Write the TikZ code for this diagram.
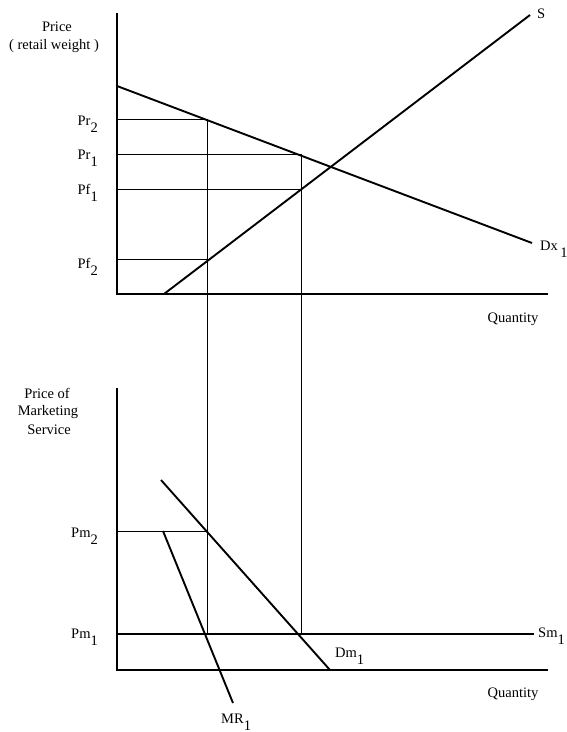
\documentclass[tikz,border=0pt]{standalone}
\usepackage{fontspec}
\setmainfont{Liberation Serif}
\newcommand{\lowsub}[1]{\raisebox{-0.5em}{#1}}

\begin{document}
\begin{tikzpicture}[x=1pt, y=-1pt,
    axis/.style={line width=1.5pt},
    curve/.style={line width=1.9pt},
    guide/.style={line width=0.7pt},
    lab/.style={font=\fontsize{14.5}{17}\selectfont, inner sep=0pt}]
    \useasboundingbox (0,0) rectangle (567,732);

    % Định nghĩa các điểm (hình trên)
    \coordinate (O1) at (117, 294);
    \coordinate (Y1) at (117, 13);
    \coordinate (X1) at (548, 294);
    \coordinate (D0) at (117, 86);
    \coordinate (D1) at (532, 243);
    \coordinate (S0) at (164, 294);
    \coordinate (S1) at (530, 15);
    \coordinate (R2) at (117, 119);
    \coordinate (R1) at (117, 154);
    \coordinate (F1) at (117, 189);
    \coordinate (F2) at (117, 259);
    \coordinate (E2) at (207, 119);
    \coordinate (E1) at (301, 154);
    \coordinate (G1) at (301, 189);
    \coordinate (G2) at (207, 259);

    % Định nghĩa các điểm (hình dưới)
    \coordinate (O2) at (117, 670);
    \coordinate (Y2) at (117, 388);
    \coordinate (X2) at (548, 670);
    \coordinate (M2) at (117, 531);
    \coordinate (M1) at (117, 634);
    \coordinate (Sm) at (534, 634);
    \coordinate (H2) at (207, 531);
    \coordinate (H1) at (207, 634);
    \coordinate (K1) at (301, 634);
    \coordinate (Dm0) at (161, 480);
    \coordinate (Dm1) at (330, 670);
    \coordinate (MR0) at (163, 531);
    \coordinate (MR1) at (233, 703);

    % 1. Các trục
    \draw[axis] (Y1) -- (O1) -- (X1);
    \draw[axis] (Y2) -- (O2) -- (X2);

    % 2. Các đường gióng
    \draw[guide] (R2) -- (E2) -- (H1);
    \draw[guide] (R1) -- (E1) -- (K1);
    \draw[guide] (F1) -- (G1);
    \draw[guide] (F2) -- (G2);
    \draw[guide] (M2) -- (H2);

    % 3. Các đường cung, cầu
    \draw[curve] (D0) -- (D1);
    \draw[curve] (S0) -- (S1);
    \draw[axis] (M1) -- (Sm);
    \draw[curve] (Dm0) -- (Dm1);
    \draw[curve] (MR0) -- (MR1);

    % 4. Nhãn hình trên
    \node[lab] (price) at (57, 27) {Price};
    \node[lab] (retail) at (54, 46) {( retail weight )};
    \node[lab, anchor=base east] (pr2) at (98, 125) {Pr\lowsub{2}};
    \node[lab, anchor=base east] (pr1) at (98, 159) {Pr\lowsub{1}};
    \node[lab, anchor=base east] (pf1) at (98, 194) {Pf\lowsub{1}};
    \node[lab, anchor=base east] (pf2) at (98, 268) {Pf\lowsub{2}};
    \node[lab, anchor=base west] (s) at (537, 18) {S};
    \node[lab, anchor=base west] (dx) at (540, 250) {Dx\,\lowsub{1}};
    \node[lab, anchor=base] (qty1) at (513, 322) {Quantity};

    % 5. Nhãn hình dưới
    \node[lab] (pricem) at (47, 393) {Price of};
    \node[lab] (mkt) at (48, 412) {Marketing};
    \node[lab] (serv) at (49, 430) {Service};
    \node[lab, anchor=base east] (pm2) at (98, 537) {Pm\lowsub{2}};
    \node[lab, anchor=base east] (pm1) at (98, 638) {Pm\lowsub{1}};
    \node[lab, anchor=base west] (sm) at (538, 637) {Sm\lowsub{1}};
    \node[lab, anchor=base west] (dm) at (335, 657) {Dm\lowsub{1}};
    \node[lab, anchor=base west] (mr) at (221, 723) {MR\lowsub{1}};
    \node[lab, anchor=base] (qty2) at (513, 697) {Quantity};
\end{tikzpicture}
\end{document}
